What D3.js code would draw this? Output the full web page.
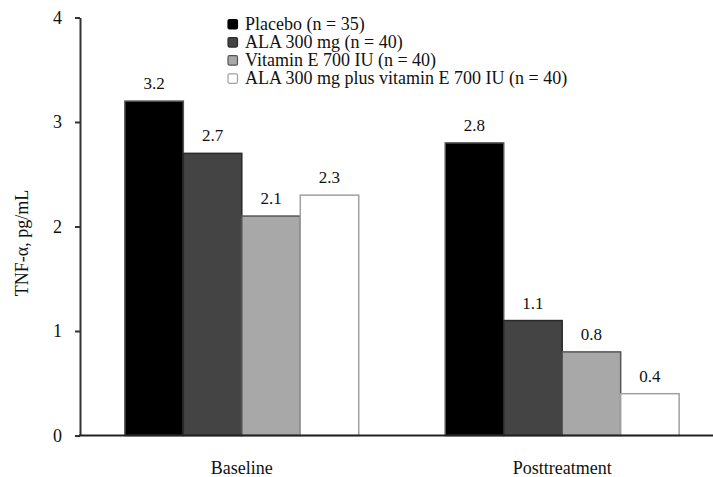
<!DOCTYPE html>
<html>
<head>
<meta charset="utf-8">
<script src="https://cdn.jsdelivr.net/npm/d3@7"></script>
<style>
  html, body { margin: 0; padding: 0; background: #fff; }
  svg { display: block; font-family: "Liberation Serif", "Times New Roman", serif; }
</style>
</head>
<body>
<svg id="chart" width="713" height="477"></svg>
<script>
const groups = ["Baseline", "Posttreatment"];
const seriesNames = [
  "Placebo (n = 35)",
  "ALA 300 mg (n = 40)",
  "Vitamin E 700 IU (n = 40)",
  "ALA 300 mg plus vitamin E 700 IU (n = 40)"
];
const placebo = [3.2, 2.8];
const ala = [2.7, 1.1];
const vitE = [2.1, 0.8];
const combo = [2.3, 0.4];
const yTicks = [0, 1, 2, 3, 4];
const fills = ["#000000", "#444444", "#a8a8a8", "#ffffff"];
const strokes = ["#555555", "#2a2a2a", "#555555", "#a0a0a0"];

const seriesValues = [placebo, ala, vitE, combo];

const svg = d3.select("#chart");
const W = 713, H = 477;
const mLeft = 80, mTop = 17.5, mBottom = 435.5;

const x0 = d3.scaleBand().domain(groups).range([mLeft, 724]).paddingInner(0.27).paddingOuter(0.14);
const x1 = d3.scaleBand().domain(d3.range(seriesNames.length)).range([0, x0.bandwidth()]).padding(0);
const y = d3.scaleLinear().domain([0, 4]).range([mBottom, mTop]);

// bars
const gGroups = svg.append("g").selectAll("g")
  .data(groups).join("g")
  .attr("transform", d => `translate(${x0(d)},0)`);

gGroups.each(function(gName, gi) {
  const g = d3.select(this);
  seriesValues.forEach((vals, si) => {
    const v = vals[gi];
    g.append("rect")
      .attr("x", x1(si))
      .attr("y", y(v))
      .attr("width", x1.bandwidth())
      .attr("height", y(0) - y(v))
      .attr("fill", fills[si])
      .attr("stroke", strokes[si])
      .attr("stroke-width", 1.5);
    g.append("text")
      .attr("x", x1(si) + x1.bandwidth() / 2)
      .attr("y", y(v) - 12)
      .attr("text-anchor", "middle")
      .attr("font-size", 17)
      .attr("fill", "#111")
      .text(v.toFixed(1));
  });
});

// y axis
const yAxis = d3.axisLeft(y).tickValues(yTicks).tickFormat(d3.format("d")).tickSize(5).tickPadding(13).tickSizeOuter(0);
const gy = svg.append("g").attr("transform", `translate(${mLeft},0)`).call(yAxis);
gy.select(".domain").attr("stroke", "#333").attr("stroke-width", 2);
gy.selectAll(".tick line").attr("stroke", "#333").attr("stroke-width", 2);
gy.selectAll(".tick text").attr("font-size", 18).attr("fill", "#111")
  .attr("font-family", "Liberation Serif, serif");

// x axis
const xAxis = d3.axisBottom(x0).tickSize(0).tickPadding(26);
const gx = svg.append("g").attr("transform", `translate(0,${mBottom})`).call(xAxis);
gx.select(".domain").remove();
gx.append("line").attr("x1", mLeft - 1).attr("x2", W).attr("y1", 0).attr("y2", 0)
  .attr("stroke", "#222").attr("stroke-width", 2);
gx.selectAll(".tick text").attr("font-size", 18).attr("fill", "#111")
  .attr("font-family", "Liberation Serif, serif");

// y title
svg.append("text")
  .attr("transform", `translate(28,243) rotate(-90)`)
  .attr("text-anchor", "middle")
  .attr("font-size", 18)
  .attr("fill", "#111")
  .text("TNF-α, pg/mL");

// legend
const legend = svg.append("g").attr("transform", "translate(228,24)");
seriesNames.forEach((name, i) => {
  const row = legend.append("g").attr("transform", `translate(0,${i * 18.1})`);
  row.append("rect")
    .attr("x", 0).attr("y", -4.5).attr("width", 9.5).attr("height", 9.5)
    .attr("rx", 1.5)
    .attr("fill", fills[i])
    .attr("stroke", i === 0 ? "#000" : strokes[i])
    .attr("stroke-width", 1.2);
  row.append("text")
    .attr("x", 17).attr("y", 6)
    .attr("font-size", 18)
    .attr("fill", "#111")
    .text(name);
});
</script>
</body>
</html>
